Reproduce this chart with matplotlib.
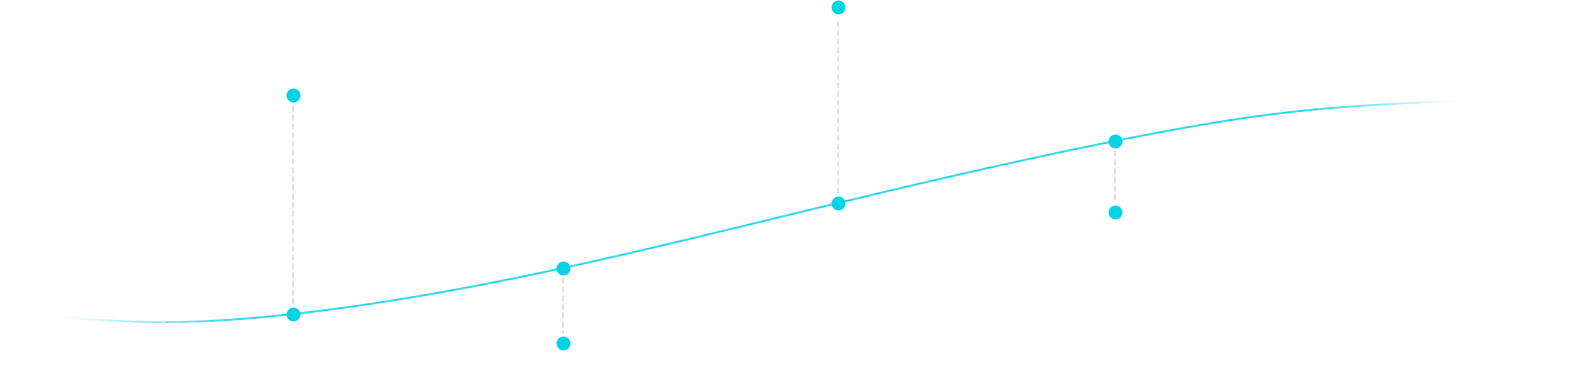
import numpy as np
import matplotlib
matplotlib.use("Agg")
import matplotlib.pyplot as plt
from matplotlib.collections import LineCollection
from matplotlib.colors import to_rgba

# ---- data (x position, value) ----
cat_x = [293, 563, 838, 1115]
curve_vals = [75, 121, 186, 248]
marker_vals = [294, 46, 382, 177]
trend_x = [57, 150, 293, 563, 838, 1115, 1300, 1457]
trend_y = [72, 67, 75, 121, 186, 248, 278, 288]

COLOR = "#00D3E6"
DASH = "#CCCCCC"


def natural_spline(xn, yn, xs):
    xn = np.asarray(xn, float); yn = np.asarray(yn, float)
    n = len(xn)
    h = np.diff(xn)
    A = np.zeros((n, n)); b = np.zeros(n)
    A[0, 0] = 1; A[-1, -1] = 1
    for i in range(1, n - 1):
        A[i, i - 1] = h[i - 1]
        A[i, i] = 2 * (h[i - 1] + h[i])
        A[i, i + 1] = h[i]
        b[i] = 6 * ((yn[i + 1] - yn[i]) / h[i] - (yn[i] - yn[i - 1]) / h[i - 1])
    M = np.linalg.solve(A, b)
    idx = np.clip(np.searchsorted(xn, xs) - 1, 0, n - 2)
    x0 = xn[idx]; x1 = xn[idx + 1]; hh = x1 - x0
    t0 = x1 - xs; t1 = xs - x0
    return (M[idx] * t0**3 / (6 * hh) + M[idx + 1] * t1**3 / (6 * hh)
            + (yn[idx] / hh - M[idx] * hh / 6) * t0
            + (yn[idx + 1] / hh - M[idx + 1] * hh / 6) * t1)


fig = plt.figure(figsize=(15.92, 3.89), dpi=100)
ax = fig.add_axes([0, 0, 1, 1])
ax.set_xlim(0, 1592)
ax.set_ylim(0, 389)
ax.axis("off")

xs = np.linspace(trend_x[0], trend_x[-1], 1500)
ys = natural_spline(trend_x, trend_y, xs)
pts = np.column_stack([xs, ys]).reshape(-1, 1, 2)
segs = np.concatenate([pts[:-1], pts[1:]], axis=1)
xm = 0.5 * (xs[:-1] + xs[1:])
a_left = np.clip((xm - trend_x[0]) / 190.0, 0, 1)
a_right = np.clip((trend_x[-1] - xm) / 150.0, 0, 1)
alpha = (a_left ** 1.1) * (a_right ** 1.1)
base = np.array(to_rgba(COLOR))
cols = np.tile(base, (len(segs), 1))
cols[:, 3] = alpha
lc = LineCollection(segs, colors=cols, linewidths=1.35, capstyle="butt", zorder=2)
ax.add_collection(lc)

for x, cv, mv in zip(cat_x, curve_vals, marker_vals):
    ax.annotate("", xy=(x, mv), xytext=(x, cv),
                arrowprops=dict(arrowstyle="-", color=DASH, lw=0.9,
                                linestyle=(0, (3.5, 3.5)),
                                shrinkA=7.5, shrinkB=7.5), zorder=1)

ax.plot(cat_x, curve_vals, "o", color=COLOR, markersize=10, markeredgewidth=0, zorder=3)
ax.plot(cat_x, marker_vals, "o", color=COLOR, markersize=10, markeredgewidth=0, zorder=3)

fig.savefig("out.png", dpi=100, facecolor="white")
